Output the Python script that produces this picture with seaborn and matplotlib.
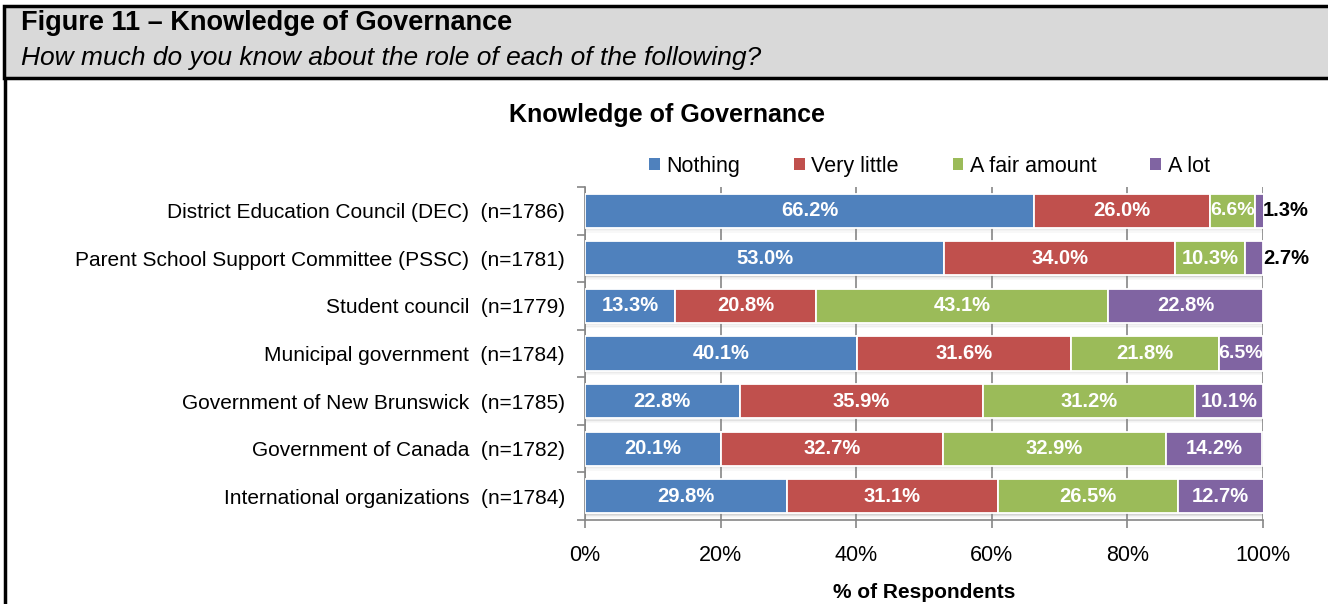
import matplotlib
matplotlib.use("Agg")
import matplotlib.pyplot as plt
from matplotlib.patches import Rectangle, Patch
from matplotlib.lines import Line2D
import numpy as np
import pandas as pd
import seaborn as sns

# ---- data -------------------------------------------------------------
categories = [
    "District Education Council (DEC)  (n=1786)",
    "Parent School Support Committee (PSSC)  (n=1781)",
    "Student council  (n=1779)",
    "Municipal government  (n=1784)",
    "Government of New Brunswick  (n=1785)",
    "Government of Canada  (n=1782)",
    "International organizations  (n=1784)",
]
series_names = ["Nothing", "Very little", "A fair amount", "A lot"]
nothing = [66.2, 53.0, 13.3, 40.1, 22.8, 20.1, 29.8]
very_little = [26.0, 34.0, 20.8, 31.6, 35.9, 32.7, 31.1]
fair_amount = [6.6, 10.3, 43.1, 21.8, 31.2, 32.9, 26.5]
a_lot = [1.3, 2.7, 22.8, 6.5, 10.1, 14.2, 12.7]
x_ticks = [0, 20, 40, 60, 80, 100]

colors = ["#4F81BD", "#C0504D", "#9BBB59", "#8064A2"]
series = [nothing, very_little, fair_amount, a_lot]

# ---- style ------------------------------------------------------------
sns.set_theme(style="white")
plt.rcParams["font.family"] = ["Liberation Sans", "DejaVu Sans"]
plt.rcParams.update({"text.color": "black", "axes.labelcolor": "black",
                     "xtick.color": "black", "ytick.color": "black"})

fig = plt.figure(figsize=(13.28, 6.04), dpi=100)
W, H = 1328, 604

def fx(px):
    return px / W

def fy(py):
    return 1 - py / H

# header box
fig.patches.append(Rectangle((fx(4), fy(78)), fx(1330 - 4), fy(6) - fy(78),
                             transform=fig.transFigure, facecolor="#D9D9D9",
                             edgecolor="black", linewidth=2.5, zorder=0))
# left border of the body
fig.add_artist(Line2D([fx(5), fx(5)], [fy(78), 0], transform=fig.transFigure,
                      color="black", linewidth=2.5))
fig.text(fx(21), fy(23), "Figure 11 \u2013 Knowledge of Governance",
         fontsize=19.5, fontweight="bold", va="center", ha="left")
fig.text(fx(21), fy(58), "How much do you know about the role of each of the following?",
         fontsize=19, fontstyle="italic", va="center", ha="left")

fig.text(fx(667), fy(115), "Knowledge of Governance", fontsize=18,
         fontweight="bold", ha="center", va="center")

ax_l, ax_r, ax_t, ax_b = 585, 1263, 187, 520
ax = fig.add_axes([fx(ax_l), fy(ax_b), fx(ax_r - ax_l), fy(ax_t) - fy(ax_b)])
ax_h_px = ax_b - ax_t

df = pd.DataFrame({"category": categories})
cum = np.zeros(len(categories))

# soft shadow under each bar
for i in range(len(categories)):
    for k, a in enumerate([0.22, 0.15, 0.09, 0.05]):
        ax.barh(i + 0.37 + 0.025 * k, 100, height=0.03, left=0,
                color="#7F7F7F", alpha=a, linewidth=0, zorder=1)

for name, vals, col in zip(series_names, series, colors):
    d = df.copy()
    d["value"] = vals
    d["left"] = cum.copy()
    sns.barplot(data=d, x="value", y="category", orient="h", left=d["left"].values,
                color=col, saturation=1, width=0.72, edgecolor="white", linewidth=1.3,
                ax=ax, zorder=3, label=name)
    for i, (v, l) in enumerate(zip(vals, cum)):
        txt = f"{v:.1f}%"
        if v < 3:
            ax.text(100.0, i, txt, ha="left", va="center", fontsize=14.5,
                    fontweight="bold", color="black", clip_on=False, zorder=6)
        else:
            ax.text(l + v / 2, i, txt, ha="center", va="center",
                    fontsize=14 if v < 8 else 14.5,
                    fontweight="bold", color="white", zorder=5)
    cum = cum + np.array(vals)

ax.set_xlim(0, 100)
ax.set_ylim(len(categories) - 0.5, -0.5)
ax.set_xticks(x_ticks)
ax.set_xticklabels([f"{t}%" for t in x_ticks], fontsize=15.5)
ax.tick_params(axis="x", pad=12, length=6, width=1.2, color="#868686", direction="out",
               bottom=True)
ax.set_yticks(range(len(categories)))
ax.set_yticklabels(categories, fontsize=15)
ax.tick_params(axis="y", length=0, pad=14.4)
# category boundary ticks on the y axis
ax.set_yticks(np.arange(-0.5, len(categories), 1), minor=True)
ax.tick_params(axis="y", which="minor", length=6, width=1.2, color="#868686", left=True)

ax.grid(axis="x", color="#868686", linewidth=1.2, zorder=0)
ax.set_axisbelow(True)
for s in ["top", "right"]:
    ax.spines[s].set_visible(False)
for s in ["left", "bottom"]:
    ax.spines[s].set_color("#868686")
    ax.spines[s].set_linewidth(1.2)

ax.set_xlabel("% of Respondents", fontsize=15, fontweight="bold")
ax.xaxis.set_label_coords(0.5, -(592 - ax_b) / ax_h_px)
ax.xaxis.label.set_va("center")
ax.set_ylabel("")

handles = [Patch(facecolor=c, edgecolor="none") for c in colors]
leg = ax.legend(handles, series_names, ncol=4, loc="center",
                bbox_to_anchor=(0.508, 1 + (ax_t - 166) / ax_h_px),
                frameon=False, fontsize=15.5, handlelength=0.5, handleheight=0.5,
                handletextpad=0.3, columnspacing=2.5)

fig.savefig("out.png", dpi=100)
